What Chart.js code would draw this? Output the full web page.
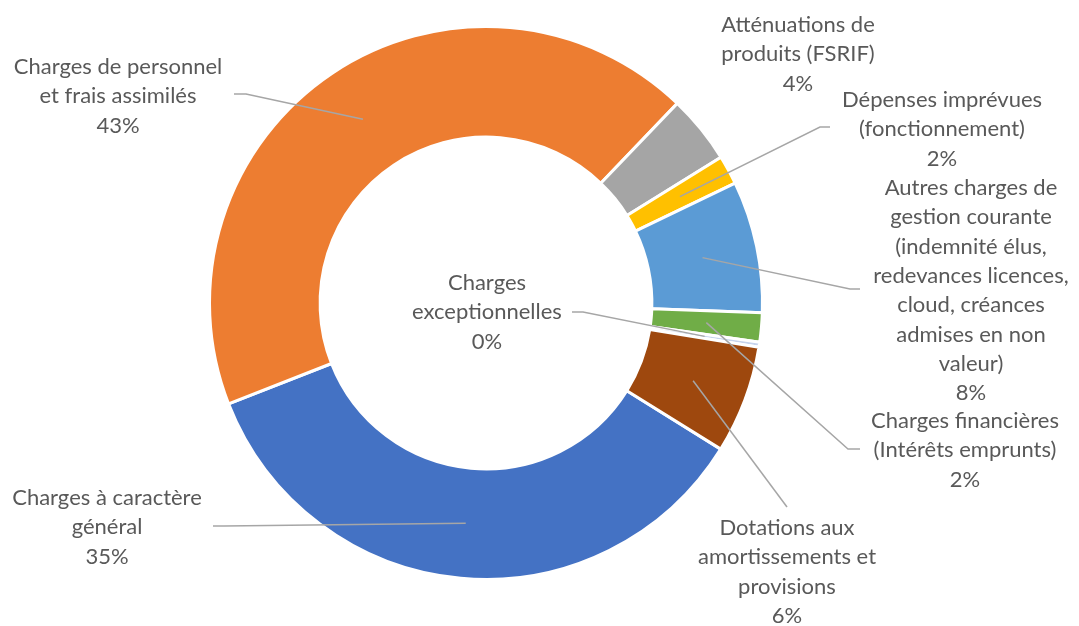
<!DOCTYPE html>
<html>
<head>
<meta charset="utf-8">
<script src="https://cdn.jsdelivr.net/npm/chart.js@4.4.1/dist/chart.umd.min.js"></script>
<style>
  html, body { margin: 0; padding: 0; background: #fff; }
  #wrap { width: 1079px; height: 626px; }
</style>
</head>
<body>
<div id="wrap"><canvas id="myChart"></canvas></div>
<script>
const categories = [
  ["Charges à caractère", "général"],
  ["Charges de personnel", "et frais assimilés"],
  ["Atténuations de", "produits (FSRIF)"],
  ["Dépenses imprévues", "(fonctionnement)"],
  ["Autres charges de", "gestion courante", "(indemnité élus,", "redevances licences,", "cloud, créances", "admises en non", "valeur)"],
  ["Charges financières", "(Intérêts emprunts)"],
  ["Charges", "exceptionnelles"],
  ["Dotations aux", "amortissements et", "provisions"]
];

// share of total spending, in %
const shares = [35.2, 43.1, 4.0, 1.7, 7.7, 1.7, 0.3, 6.3];

// the tiny 0% slice only shows as a pale hairline in the original
const colors = ['#4472C4', '#ED7D31', '#A5A5A5', '#FFC000', '#5B9BD5', '#70AD47', '#C5D3EC', '#9E480E'];

// labels were dragged by hand in the original: text centre x, first line y,
// and the leader line start + elbow (the line then runs to the slice)
const labelSpots = [
  {x: 107, y: 498, lead: [213, 526, 224, 526]},
  {x: 118, y: 67, lead: [234, 94, 246, 94]},
  {x: 798, y: 25, lead: null},
  {x: 942, y: 100, lead: [830, 127, 820, 127]},
  {x: 971, y: 188, lead: [860, 289, 850, 289]},
  {x: 965, y: 421, lead: [860, 449, 848, 449]},
  {x: 487, y: 283, lead: [572, 312, 583, 312]},
  {x: 787, y: 528, lead: [787, 507, 787, 507]}
];
const lineH = 29.3;

const outsideLabels = {
  id: 'outsideLabels',
  afterDatasetsDraw(chart) {
    const ctx = chart.ctx;
    const arcs = chart.getDatasetMeta(0).data;
    const total = shares.reduce((a, b) => a + b, 0);
    ctx.save();
    ctx.strokeStyle = '#A6A6A6';
    ctx.lineWidth = 1.5;
    labelSpots.forEach((s, i) => {
      if (!s.lead) return;
      const p = arcs[i].tooltipPosition();
      ctx.beginPath();
      ctx.moveTo(s.lead[0], s.lead[1]);
      ctx.lineTo(s.lead[2], s.lead[3]);
      ctx.lineTo(p.x, p.y);
      ctx.stroke();
    });
    ctx.font = '22px Lato';
    ctx.fillStyle = '#595959';
    ctx.textAlign = 'center';
    ctx.textBaseline = 'middle';
    labelSpots.forEach((s, i) => {
      const lines = categories[i].concat(Math.round(shares[i] / total * 100) + '%');
      lines.forEach((t, j) => ctx.fillText(t, s.x, s.y + j * lineH));
    });
    ctx.restore();
  }
};

const data = {
  labels: categories,
  datasets: [{
    data: shares,
    backgroundColor: colors,
    borderColor: '#ffffff',
    borderWidth: 3,
  }],
};

const config = {
  type: 'doughnut',
  data: data,
  options: {
    responsive: true,
    maintainAspectRatio: false,
    animation: false,
    rotation: 121.9,
    cutout: '60%',
    layout: {
      padding: {top: 25, bottom: 45, left: 0, right: 107}
    },
    plugins: {
      legend: { display: false },
      tooltip: { enabled: false },
    },
  },
  plugins: [outsideLabels],
};

const myChart = new Chart(
  document.getElementById('myChart'),
  config
);
</script>
</body>
</html>
